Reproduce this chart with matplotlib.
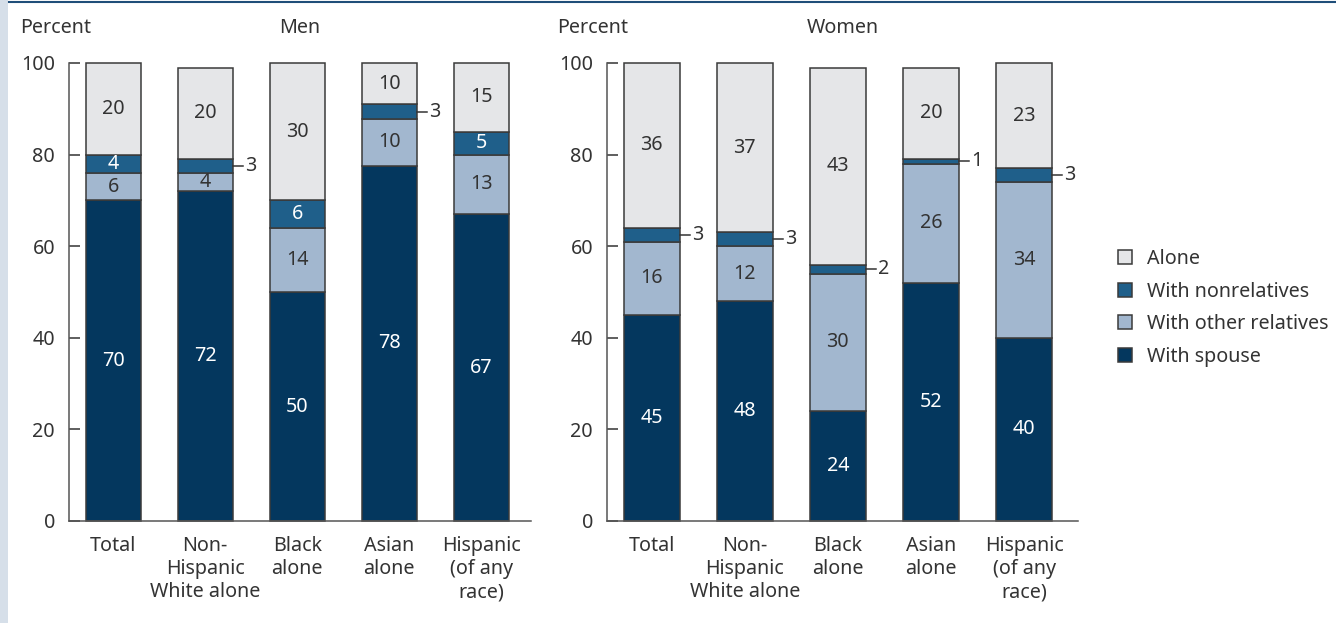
import numpy as np
import matplotlib
matplotlib.use("Agg")
import matplotlib.pyplot as plt
from matplotlib.patches import Patch, Rectangle
from matplotlib.lines import Line2D

plt.rcParams['font.family'] = ['Noto Sans', 'DejaVu Sans']
plt.rcParams['font.size'] = 14.2

groups = ["Total", "Non-\nHispanic\nWhite alone", "Black\nalone", "Asian\nalone", "Hispanic\n(of any\nrace)"]
categories = ["Alone", "With nonrelatives", "With other relatives", "With spouse"]

# bar heights (percent)
men_spouse = [70, 72, 50, 77.6, 67]
men_other = [6, 4, 14, 10.1, 13]
men_nonrel = [4, 3, 6, 3.3, 5]
men_alone = [20, 20, 30, 9.0, 15]

women_spouse = [45, 48, 24, 52, 40]
women_other = [16, 12, 30, 26, 34]
women_nonrel = [3, 3, 2, 1, 3]
women_alone = [36, 37, 43, 20, 23]

# printed labels
men_spouse_lbl = [70, 72, 50, 78, 67]
men_other_lbl = [6, 4, 14, 10, 13]
men_nonrel_lbl = [4, 3, 6, 3, 5]
men_alone_lbl = [20, 20, 30, 10, 15]

women_spouse_lbl = [45, 48, 24, 52, 40]
women_other_lbl = [16, 12, 30, 26, 34]
women_nonrel_lbl = [3, 3, 2, 1, 3]
women_alone_lbl = [36, 37, 43, 20, 23]

colors = {'spouse': '#04375e', 'other': '#a2b7cf', 'nonrel': '#1f5f8a', 'alone': '#e5e6e8'}
txtcol = {'spouse': 'white', 'other': '#333333', 'nonrel': 'white', 'alone': '#333333'}
edge = '#3a3a3a'
dark = '#333333'

W, H = 1336, 623
fig = plt.figure(figsize=(W / 100, H / 100), dpi=100)


def draw(ax, segs, title, xmax):
    x = np.arange(len(groups))
    bottom = np.zeros(len(groups))
    for key, h, lbl in segs:
        h = np.array(h, dtype=float)
        ax.bar(x, h, 0.6, bottom=bottom, color=colors[key], edgecolor=edge,
               linewidth=1.1, clip_on=False, zorder=2)
        for i in range(len(x)):
            yc = bottom[i] + h[i] / 2
            if key == 'nonrel' and lbl[i] < 4:
                ax.plot([x[i] + 0.3, x[i] + 0.41], [yc, yc], color=dark, lw=1.1,
                        clip_on=False)
                ax.text(x[i] + 0.43, yc, str(lbl[i]), ha='left', va='center',
                        color=dark)
            else:
                ax.text(x[i], yc, str(lbl[i]), ha='center', va='center',
                        color=txtcol[key])
        bottom += h
    ax.set_xlim(-0.48, xmax)
    ax.set_ylim(0, 100)
    ax.set_yticks([0, 20, 40, 60, 80, 100])
    ax.set_xticks(x)
    ax.set_xticklabels(groups, color=dark)
    ax.tick_params(axis='x', length=0, pad=11)
    ax.tick_params(axis='y', direction='in', length=8, width=1.1, color=dark,
                   pad=10, labelcolor=dark)
    for s in ['top', 'right']:
        ax.spines[s].set_visible(False)
    for s in ['left', 'bottom']:
        ax.spines[s].set_color('#555555')
        ax.spines[s].set_linewidth(1.1)
    ax.text(-0.105, 1.076, "Percent", transform=ax.transAxes, ha='left',
            va='center', color=dark)
    ax.text(0.5, 1.076, title, transform=ax.transAxes, ha='center',
            va='center', color=dark)


ax1 = fig.add_axes([69 / W, 1 - 521 / H, 462 / W, 458 / H])
draw(ax1, [('spouse', men_spouse, men_spouse_lbl), ('other', men_other, men_other_lbl),
           ('nonrel', men_nonrel, men_nonrel_lbl), ('alone', men_alone, men_alone_lbl)],
     "Men", 4.54)

ax2 = fig.add_axes([607 / W, 1 - 521 / H, 471 / W, 458 / H])
draw(ax2, [('spouse', women_spouse, women_spouse_lbl), ('other', women_other, women_other_lbl),
           ('nonrel', women_nonrel, women_nonrel_lbl), ('alone', women_alone, women_alone_lbl)],
     "Women", 4.58)

handles = [Patch(facecolor=colors[k], edgecolor=edge, linewidth=1.1)
           for k in ['alone', 'nonrel', 'other', 'spouse']]
fig.legend(handles, categories, loc='upper left', bbox_to_anchor=(1118 / W, 1 - 249 / H),
           frameon=False, handlelength=0.7, handleheight=0.7, handletextpad=0.75,
           labelspacing=0.64, borderpad=0, borderaxespad=0, labelcolor=dark)

# page decoration: left strip and top rule
fig.add_artist(Rectangle((0, 0), 8 / W, 1, transform=fig.transFigure,
                         color='#d6dfe9', lw=0))
fig.add_artist(Line2D([9 / W, 1], [1 - 2 / H, 1 - 2 / H], transform=fig.transFigure,
                      color='#1f4e79', lw=1.5))

fig.savefig("out.png", dpi=100)
